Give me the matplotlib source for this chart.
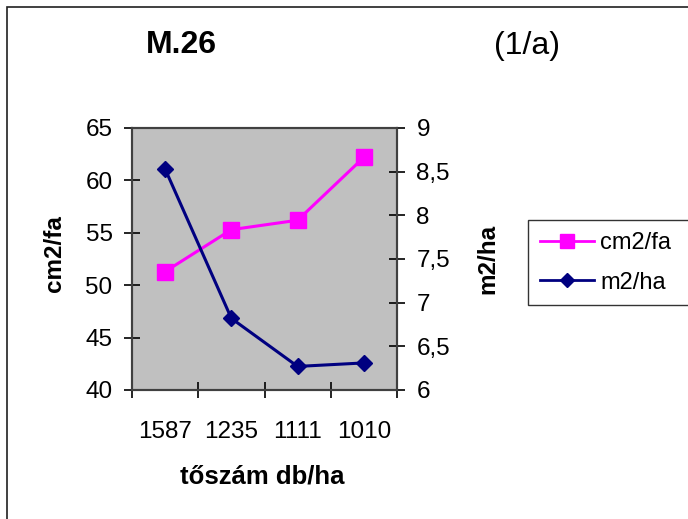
import matplotlib.pyplot as plt
from matplotlib.patches import Rectangle
from matplotlib.lines import Line2D

plt.rcParams['font.family'] = ['Liberation Sans', 'DejaVu Sans']

kategoriak = ['1587', '1235', '1111', '1010']
cm2_fa = [51.3, 55.3, 56.2, 62.2]
m2_ha = [8.53, 6.82, 6.27, 6.31]
bal_tickek = [40, 45, 50, 55, 60, 65]
jobb_tickek = [6, 6.5, 7, 7.5, 8, 8.5, 9]

W, H = 688, 519
fig = plt.figure(figsize=(W / 100, H / 100), dpi=100)

def fx(px):
    return px / W

def fy(py):
    return 1 - py / H

# keret a kep korul
fig.patches.append(Rectangle((fx(7), -0.01), 1.0, fy(7) + 0.01, transform=fig.transFigure,
                             fill=False, edgecolor='#202020', linewidth=1.2))

ax = fig.add_axes([fx(132), fy(390), fx(397 - 132), (390 - 128) / H])
ax.set_facecolor('#C0C0C0')
x = list(range(1, len(kategoriak) + 1))
ax.plot(x, cm2_fa, color='#FF00FF', marker='s', markersize=11, linewidth=2.2, zorder=3)
ax.set_xlim(0.5, len(kategoriak) + 0.5)
ax.set_ylim(40, 65)
ax.set_yticks(bal_tickek)
ax.set_yticklabels([str(v) for v in bal_tickek], fontsize=17.5)
ax.set_xticks([v + 0.5 for v in range(0, len(kategoriak) + 1)])
ax.set_xticklabels([])
ax.set_xticks(x, minor=True)
ax.set_xticklabels(kategoriak, minor=True, fontsize=17.5)
ax.tick_params(axis='x', which='major', direction='inout', length=12, width=1.2)
ax.tick_params(axis='x', which='minor', length=0, pad=22)
ax.tick_params(axis='y', direction='inout', length=12, width=1.2, pad=8)
for s in ax.spines.values():
    s.set_color('#404040')
    s.set_linewidth(1.5)

ax2 = ax.twinx()
ax2.plot(x, m2_ha, color='#000080', marker='D', markersize=8, linewidth=2.2, zorder=3)
ax2.set_ylim(6, 9)
ax2.set_yticks(jobb_tickek)
ax2.set_yticklabels([('%g' % v).replace('.', ',') for v in jobb_tickek], fontsize=17.5)
ax2.tick_params(axis='y', direction='inout', length=12, width=1.2, pad=8)
for s in ax2.spines.values():
    s.set_color('#404040')
    s.set_linewidth(1.5)

fig.text(fx(54), fy(254), 'cm2/fa', fontsize=17.5, fontweight='bold', rotation=90, ha='center', va='center')
fig.text(fx(488), fy(259), 'm2/ha', fontsize=17.5, fontweight='bold', rotation=90, ha='center', va='center')
fig.text(fx(262), fy(477), 'tőszám db/ha', fontsize=18.5, fontweight='bold', ha='center', va='center')
fig.text(fx(181), fy(45), 'M.26', fontsize=23, fontweight='bold', ha='center', va='center')
fig.text(fx(527), fy(46), '(1/a)', fontsize=23, ha='center', va='center')

kezelok = [Line2D([], [], color='#FF00FF', marker='s', markersize=10, linewidth=2),
           Line2D([], [], color='#000080', marker='D', markersize=7, linewidth=2)]
leg = fig.legend(kezelok, ['cm2/fa', 'm2/ha'], loc='upper left',
                 bbox_to_anchor=(fx(528), fy(220) - 0.01, fx(720 - 528), 0.01), mode='expand',
                 fontsize=17, frameon=True, fancybox=False, edgecolor='black', handlelength=2.3,
                 borderpad=0.5, labelspacing=0.75, handletextpad=0.25, borderaxespad=0)
leg.get_frame().set_linewidth(1.0)

fig.savefig('out.png', dpi=100)
